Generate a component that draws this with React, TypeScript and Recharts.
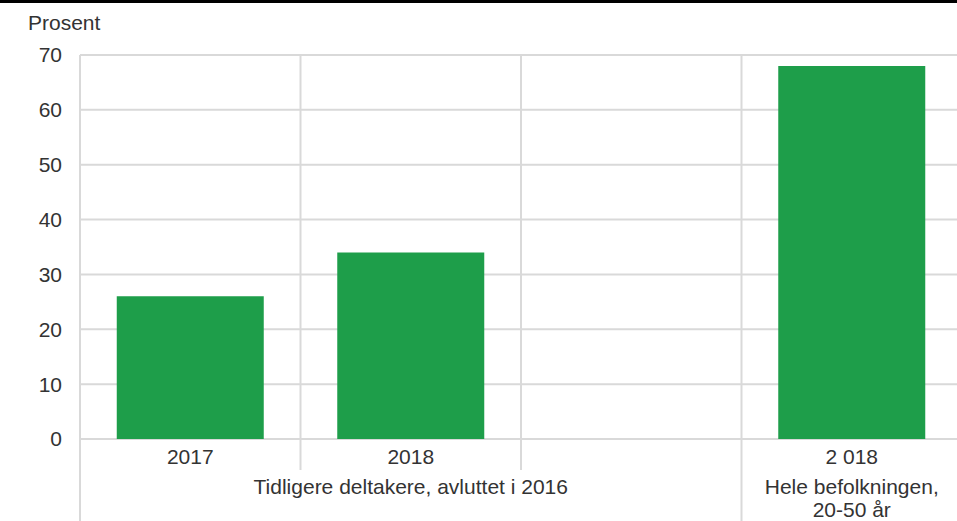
import { BarChart, Bar, XAxis, YAxis, CartesianGrid, ReferenceLine } from 'recharts'

const categories = ['2017', '2018', '', '2 018']
const values = [26, 34, null, 68]
const yTicks = [0, 10, 20, 30, 40, 50, 60, 70]
const groupLabels = [
  { at: 1, lines: ['Tidligere deltakere, avluttet i 2016'] },
  { at: 3, lines: ['Hele befolkningen,', '20-50 år'] },
]
// band index where a group starts (line runs to the bottom)
const groupStarts = [0, 3]

const data = categories.map((label, i) => ({ key: `c${i}`, label, value: values[i] }))

const FONT = '"Liberation Sans", Arial, sans-serif'
const TEXT = '#333333'
const GRID = '#d9d9d9'
const GREEN = '#1e9e4a'

function CategoryTick(props: any) {
  const { x, y, payload, index } = props
  const half = payload?.offset ?? 110.25
  const left = x - half
  const full = groupStarts.includes(index)
  const group = groupLabels.find((g) => g.at === index)
  return (
    <g>
      <line x1={left} x2={left} y1={y} y2={full ? y + 82 : y + 31} stroke={GRID} strokeWidth={2} />
      <text x={x} y={y + 25} textAnchor="middle" fill={TEXT} fontSize={21} fontFamily={FONT}>
        {categories[index]}
      </text>
      {group &&
        group.lines.map((t, j) => (
          <text key={j} x={x} y={y + 55 + j * 23} textAnchor="middle" fill={TEXT} fontSize={21} fontFamily={FONT}>
            {t}
          </text>
        ))}
    </g>
  )
}

export default function App() {
  return (
    <div style={{ position: 'absolute', left: 0, top: 0, width: 957, height: 521, overflow: 'hidden', background: '#fff' }}>
      <div style={{ position: 'absolute', left: 0, top: 0, width: 957, height: 3, background: '#000' }} />
      <svg style={{ position: 'absolute', left: 0, top: 0 }} width={200} height={40}>
        <text x={28} y={30} fill={TEXT} fontSize={21} fontFamily={FONT}>
          Prosent
        </text>
      </svg>
      <div style={{ position: 'absolute', left: 0, top: 0 }}>
        <BarChart
          width={962}
          height={521}
          data={data}
          margin={{ top: 55, right: 0, bottom: 0, left: 0 }}
          barCategoryGap="16.67%"
        >
          <CartesianGrid vertical={false} stroke={GRID} strokeWidth={2} />
          <XAxis
            dataKey="key"
            type="category"
            height={82}
            axisLine={false}
            tickLine={false}
            tickSize={0}
            tickMargin={0}
            interval={0}
            tick={<CategoryTick />}
          />
          <YAxis
            width={80}
            domain={[0, 70]}
            ticks={yTicks}
            axisLine={false}
            tickLine={false}
            tickSize={0}
            tickMargin={18}
            tick={{ fill: TEXT, fontSize: 21, fontFamily: FONT }}
          />
          {data.map((d) => (
            <ReferenceLine key={d.key} x={d.key} position="start" stroke={GRID} strokeWidth={2} />
          ))}
          <Bar dataKey="value" fill={GREEN} isAnimationActive={false} />
        </BarChart>
      </div>
    </div>
  )
}
